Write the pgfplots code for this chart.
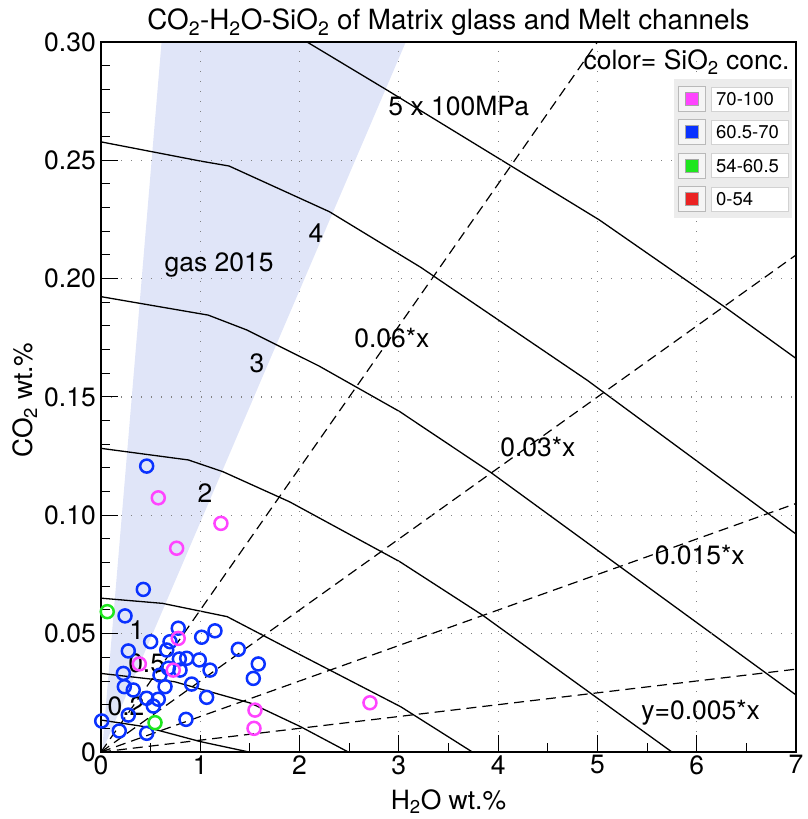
\documentclass[border=0pt]{standalone}
\usepackage{fontspec}
\setmainfont{TeX Gyre Heros}
\usepackage{pgfplots}
\pgfplotsset{compat=1.18}
\definecolor{wedge}{RGB}{224,229,248}
\definecolor{cmag}{RGB}{255,68,255}
\definecolor{cblue}{RGB}{10,50,255}
\definecolor{cgreen}{RGB}{30,230,30}
\definecolor{cred}{RGB}{235,35,35}
\definecolor{gridc}{RGB}{130,130,130}
\newcommand\fs{\fontsize{26.5}{30}\selectfont}
\newcommand\ts{\fontsize{27.8}{31}\selectfont}
\newcommand\legfont{\fontsize{18.5}{20}\selectfont}
\begin{document}
\begin{tikzpicture}
\begin{axis}[
  at={(0,0)}, anchor=south west,
  scale only axis, width=695pt, height=710pt,
  xmin=0,xmax=7,ymin=0,ymax=0.30,
  xtick={0,1,2,3,4,5,6,7},
  ytick={0,0.05,0.10,0.15,0.20,0.25,0.30},
  yticklabels={0,0.05,0.10,0.15,0.20,0.25,0.30},
  minor x tick num=1, minor y tick num=4,
  tick align=inside, tick pos=left,
  major tick length=17pt, minor tick length=9pt,
  every tick/.style={black, line width=1pt},
  grid=major,
  major grid style={gridc, line width=1.1pt, dash pattern=on 1.1pt off 8.9pt},
  axis line style={line width=1.5pt},
  tick label style={font=\fs},
  yticklabel style={inner sep=5pt},
  /pgf/number format/assume math mode=true,
  axis on top,
]
% gas 2015 wedge
\addplot[fill=wedge, draw=none] coordinates {(0.01,0) (0.61,0.30) (3.07,0.30)} -- cycle;
% isobars
\addplot[black, line width=1.3pt] coordinates {(0,0.0135) (0.44,0.0107) (1.0,0.0044) (1.49,0)};
\addplot[black, line width=1.3pt] coordinates {(0,0.0332) (0.74,0.0297) (1.51,0.0206) (2.01,0.0107) (2.49,0)};
\addplot[black, line width=1.3pt] coordinates {(0,0.065) (0.62,0.0628) (1.27,0.0572) (2.01,0.041) (3.02,0.0191) (3.74,0)};
\addplot[black, line width=1.3pt] coordinates {(0,0.1283) (0.88,0.1234) (1.23,0.1184) (1.90,0.1057) (3.01,0.0804) (3.84,0.0579) (5.75,0)};
\addplot[black, line width=1.3pt] coordinates {(0,0.1924) (1.08,0.1846) (1.47,0.1783) (2.2,0.163) (3.01,0.1438) (3.93,0.118) (7,0.0241)};
\addplot[black, line width=1.3pt] coordinates {(0,0.2578) (1.0,0.2497) (1.29,0.2476) (2.30,0.2283) (3.22,0.2048) (4.90,0.157) (7,0.0921)};
\addplot[black, line width=1.3pt] coordinates {(1.6,0.312) (2.88,0.2797) (5.02,0.2248) (6.27,0.1884) (7,0.1663)};
% ratio lines
\addplot[black, line width=1.2pt, dash pattern=on 10pt off 6pt] coordinates {(0,0) (7,0.035)};
\addplot[black, line width=1.2pt, dash pattern=on 10pt off 6pt] coordinates {(0,0) (7,0.105)};
\addplot[black, line width=1.2pt, dash pattern=on 10pt off 6pt] coordinates {(0,0) (7,0.21)};
\addplot[black, line width=1.2pt, dash pattern=on 10pt off 6pt] coordinates {(0,0) (5,0.30)};
% data
\addplot[only marks, mark=o, mark size=6.5pt, line width=2.5pt, cblue] coordinates {
(0.242,0.0575) (0.426,0.0687) (0.778,0.0523) (0.695,0.0466) (1.014,0.0485)
(1.148,0.0512) (0.50,0.0466) (0.275,0.0427) (0.662,0.0431) (1.383,0.0434)
(1.584,0.0372) (1.534,0.0311) (0.789,0.0393) (0.863,0.0396) (0.990,0.0389)
(1.098,0.0346) (0.678,0.0354) (0.796,0.0346) (0.594,0.0325) (0.225,0.0332)
(0.913,0.0287) (0.645,0.0276) (0.235,0.0276) (0.325,0.0262) (0.577,0.0223)
(0.460,0.0227) (1.064,0.0231) (0.527,0.0194) (0.275,0.0156) (0.856,0.0138)
(0.007,0.0131) (0.184,0.0089) (0.460,0.0079) (0.460,0.1208)
};
\addplot[only marks, mark=o, mark size=6.5pt, line width=2.5pt, cmag] coordinates {
(0.778,0.048) (0.386,0.0372) (0.728,0.0346) (1.551,0.0177) (1.541,0.0100)
(2.709,0.0208) (0.577,0.1074) (0.762,0.0861) (1.208,0.0966)
};
\addplot[only marks, mark=o, mark size=6.5pt, line width=2.5pt, cgreen] coordinates {
(0.063,0.0593) (0.544,0.0124)
};
% labels
\node[font=\fs, anchor=west] at (axis cs:2.86,0.2729) {5 x 100MPa};
\node[font=\fs] at (axis cs:2.165,0.2191) {4};
\node[font=\fs] at (axis cs:1.19,0.2057) {gas 2015};
\node[font=\fs] at (axis cs:1.571,0.1643) {3};
\node[font=\fs] at (axis cs:1.047,0.1093) {2};
\node[font=\fs] at (axis cs:0.36,0.0515) {1};
\node[font=\fs] at (axis cs:0.46,0.0375) {0.5};
\node[font=\fs] at (axis cs:0.252,0.0194) {0.2};
\node[font=\fs] at (axis cs:2.93,0.1749) {0.06*x};
\node[font=\fs] at (axis cs:4.40,0.1289) {0.03*x};
\node[font=\fs] at (axis cs:6.03,0.0832) {0.015*x};
\node[font=\fs] at (axis cs:6.04,0.0165) {y=0.005*x};
\node[font=\fs, anchor=east] at (axis cs:6.97,0.2916) {color= SiO\textsubscript{2} conc.};
\end{axis}
% title and axis labels
\node[font=\ts, anchor=base] at (347.5pt,722pt) {CO\textsubscript{2}-H\textsubscript{2}O-SiO\textsubscript{2} of Matrix glass and Melt channels};
\node[font=\fs, anchor=base] at (347.5pt,-57pt) {H\textsubscript{2}O wt.\%};
\node[font=\fs, rotate=90] at (-76pt,352pt) {CO\textsubscript{2} wt.\%};
% legend panel
\fill[gray!15] (573pt,534.3pt) rectangle (691.3pt,672.7pt);
\foreach \yc/\col/\txt in {653/cmag/70-100, 619.7/cblue/60.5-70, 586.3/cgreen/54-60.5, 553/cred/0-54}{
  \filldraw[fill=gray!8, draw=gray!55, line width=0.8pt] (577.3pt,\yc pt-12.5pt) rectangle (604.7pt,\yc pt+12.5pt);
  \filldraw[fill=\col, draw=gray!70, line width=0.8pt] (584.5pt,\yc pt-6.5pt) rectangle (597.5pt,\yc pt+6.5pt);
  \filldraw[fill=white, draw=gray!35, line width=0.8pt] (610pt,\yc pt-12pt) rectangle (687.3pt,\yc pt+12pt);
  \node[anchor=west, inner sep=0pt] at (615pt,\yc pt) {\legfont\txt};
}
\pgfresetboundingbox
\path (-101pt,-67pt) rectangle (706pt,752pt);
\end{tikzpicture}
\end{document}
